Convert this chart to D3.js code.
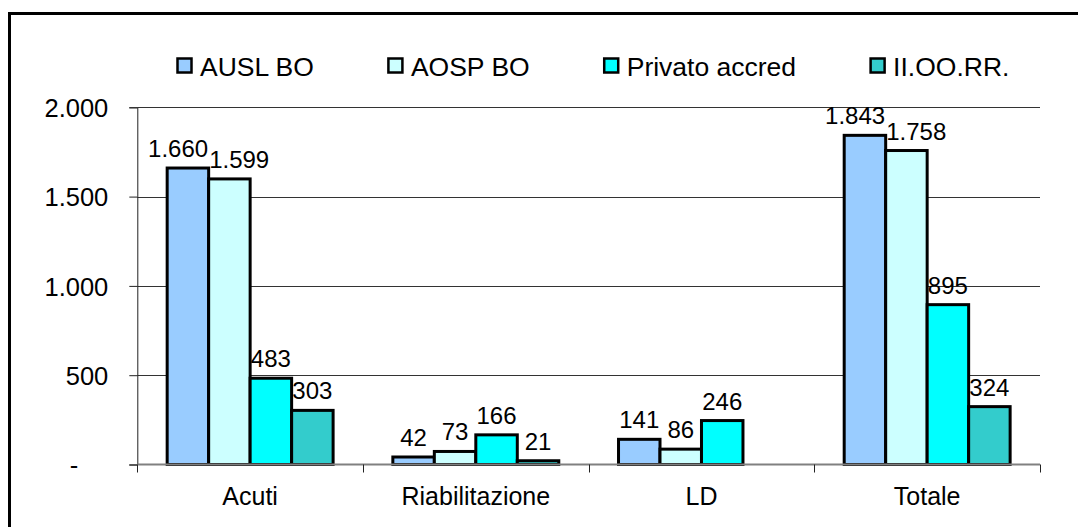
<!DOCTYPE html>
<html>
<head>
<meta charset="utf-8">
<script src="https://cdn.jsdelivr.net/npm/d3@7"></script>
<style>
  html, body { margin: 0; padding: 0; background: #fff; }
  svg { display: block; font-family: "Liberation Sans", Arial, sans-serif; }
</style>
</head>
<body>
<svg id="chart" width="1078" height="527"></svg>
<script>
const categories = ["Acuti", "Riabilitazione", "LD", "Totale"];
const seriesNames = ["AUSL BO", "AOSP BO", "Privato accred", "II.OO.RR."];
const seriesColors = ["#99CCFF", "#CCFFFF", "#00FFFF", "#33CCCC"];
const auslBo = [1660, 42, 141, 1843];
const aospBo = [1599, 73, 86, 1758];
const privatoAccred = [483, 166, 246, 895];
const iiOoRr = [303, 21, null, 324];
const yTicks = [0, 500, 1000, 1500, 2000];

const seriesValues = [auslBo, aospBo, privatoAccred, iiOoRr];
const fmt = v => v === 0 ? "-" : d3.format(",")(v).replace(/,/g, ".");

const svg = d3.select("#chart");
const FS_AXIS = 25.5, FS_CAT = 25, FS_VAL = 24, FS_LEG = 26.5;
const plot = { left: 137.3, right: 1040, top: 107.3, bottom: 464.5 };

// outer frame (only top and left visible)
svg.append("rect").attr("x", 9.5).attr("y", 13.5).attr("width", 1200).attr("height", 600)
  .attr("fill", "none").attr("stroke", "#000").attr("stroke-width", 3);

const x0 = d3.scaleBand().domain(categories).range([plot.left, plot.right]).paddingInner(0).paddingOuter(0);
const x1 = d3.scaleBand().domain(d3.range(seriesNames.length))
  .range([0, x0.bandwidth()]).paddingInner(0).paddingOuter(0.72);
const y = d3.scaleLinear().domain([0, 2000]).range([plot.bottom, plot.top]);

// gridlines
svg.append("g").selectAll("line").data(yTicks.filter(d => d > 0)).join("line")
  .attr("x1", plot.left).attr("x2", plot.right)
  .attr("y1", d => Math.round(y(d)) + 0.5).attr("y2", d => Math.round(y(d)) + 0.5)
  .attr("stroke", "#333").attr("stroke-width", 1);

// y axis
const yAxis = d3.axisLeft(y).tickValues(yTicks).tickSize(8).tickPadding(21).tickFormat(fmt);
const gy = svg.append("g").attr("transform", `translate(${plot.left},0)`).call(yAxis);
gy.select(".domain").attr("stroke", "#222").attr("stroke-width", 1);
gy.selectAll(".tick line").attr("stroke", "#222");
gy.selectAll(".tick text").attr("font-size", FS_AXIS).attr("font-family", "Liberation Sans, Arial, sans-serif")
  .attr("fill", "#000")
  .attr("dx", d => d === 0 ? -30 : 0)
  .attr("dy", "0.36em");

// bars
const groups = svg.append("g").selectAll("g").data(categories).join("g")
  .attr("transform", d => `translate(${x0(d)},0)`);

const barData = (c, ci) => seriesNames.map((s, si) => ({ c, ci, si, v: seriesValues[si][ci] }))
  .filter(d => d.v !== null && d.v !== undefined);

groups.selectAll("rect").data((c, ci) => barData(c, ci)).join("rect")
  .attr("x", d => x1(d.si))
  .attr("y", d => y(d.v))
  .attr("width", x1.bandwidth())
  .attr("height", d => y(0) - y(d.v))
  .attr("fill", d => seriesColors[d.si])
  .attr("stroke", "#000").attr("stroke-width", 3);

// x axis
const xAxis = d3.axisBottom(x0).tickSize(0).tickPadding(0);
const gx = svg.append("g").attr("transform", `translate(0,${plot.bottom})`).call(xAxis);
gx.select(".domain").remove();
gx.selectAll(".tick text").attr("font-size", FS_CAT).attr("font-family", "Liberation Sans, Arial, sans-serif")
  .attr("fill", "#000").attr("dy", 0).attr("y", 40.5);
svg.append("line").attr("x1", plot.left).attr("x2", plot.right)
  .attr("y1", plot.bottom).attr("y2", plot.bottom)
  .attr("stroke", "#808080").attr("stroke-width", 2);
const bounds = categories.map(c => x0(c)).concat([plot.right]);
svg.append("g").selectAll("line").data(bounds).join("line")
  .attr("x1", d => Math.round(d) + 0.5).attr("x2", d => Math.round(d) + 0.5)
  .attr("y1", plot.bottom).attr("y2", plot.bottom + 8)
  .attr("stroke", "#222").attr("stroke-width", 1);

// value labels
const gap = 11;
groups.each(function (c, ci) {
  const g = d3.select(this);
  const data = barData(c, ci);
  const labels = g.selectAll("text.val").data(data).join("text").attr("class", "val")
    .attr("font-size", FS_VAL).attr("text-anchor", "middle").attr("fill", "#000")
    .attr("x", d => x1(d.si) + x1.bandwidth() / 2)
    .attr("y", d => y(d.v) - gap)
    .text(d => fmt(d.v));
  // simple overlap avoidance between neighbours
  const nodes = labels.nodes();
  const info = nodes.map(n => ({ n, x: +n.getAttribute("x"), y: +n.getAttribute("y"), w: n.getComputedTextLength() }));
  for (let i = 0; i < info.length - 1; i++) {
    const a = info[i], b = info[i + 1];
    if (Math.abs(a.y - b.y) < FS_VAL * 0.8) {
      const need = (a.w + b.w) / 2 + 1 - (b.x - a.x);
      if (need > 0) { a.x -= need / 2; b.x += need / 2; }
    }
  }
  info.forEach(d => d.n.setAttribute("x", d.x));
});

// legend
const legend = svg.append("g").attr("transform", "translate(176,0)");
let lx = 0;
seriesNames.forEach((name, i) => {
  const item = legend.append("g").attr("transform", `translate(${lx},0)`);
  item.append("rect").attr("x", 1.5).attr("y", 58.5).attr("width", 14).attr("height", 14)
    .attr("fill", seriesColors[i]).attr("stroke", "#000").attr("stroke-width", 2.5);
  const t = item.append("text").attr("x", 24).attr("y", 75.5).attr("font-size", FS_LEG).attr("fill", "#000").text(name);
  lx += 24 + t.node().getComputedTextLength() + 73;
});
</script>
</body>
</html>
